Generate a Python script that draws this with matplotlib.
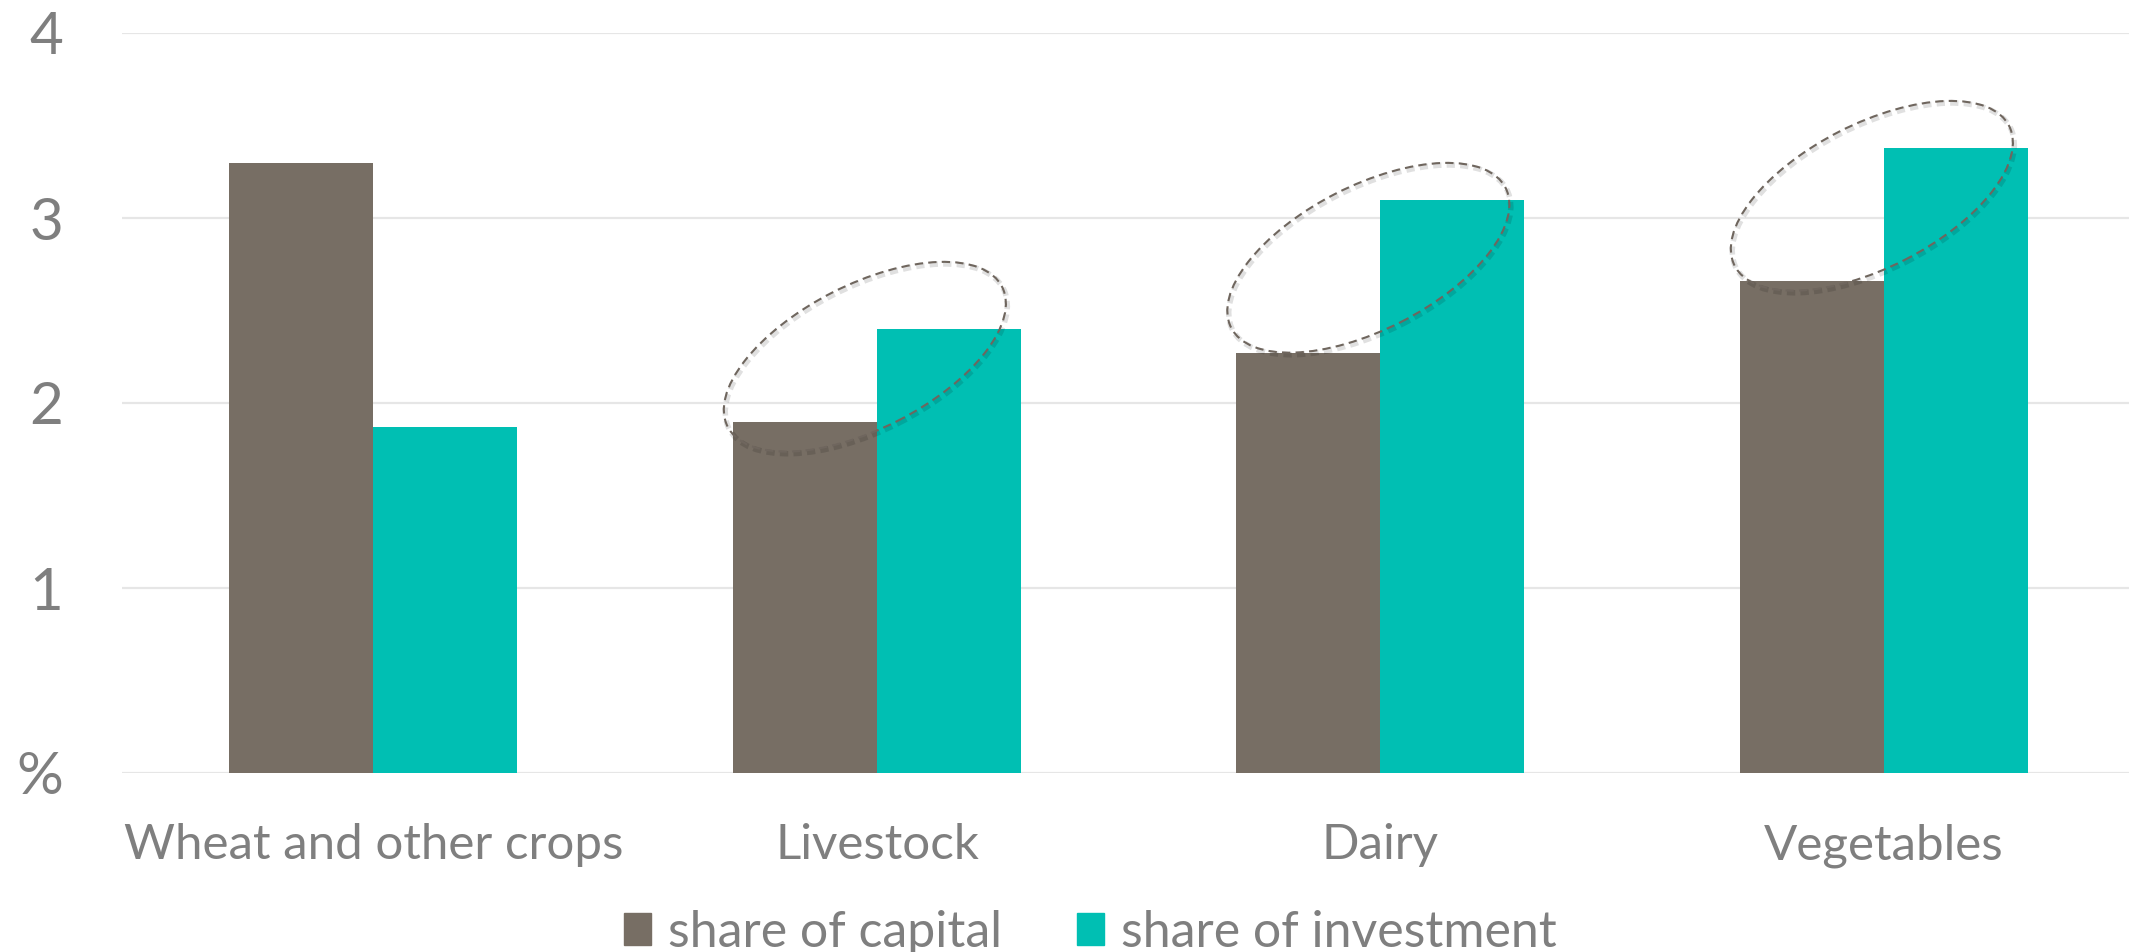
import numpy as np
import matplotlib
matplotlib.use("Agg")
import matplotlib.pyplot as plt
from matplotlib.patches import Ellipse, Patch
from matplotlib.transforms import ScaledTranslation
import matplotlib.patheffects as pe

# Data
categories = ['Wheat and other crops', 'Livestock', 'Dairy', 'Vegetables']
share_capital = [3.30, 1.90, 2.27, 2.66]
share_investment = [1.87, 2.40, 3.10, 3.38]
ytick_values = [0, 1, 2, 3, 4]
ytick_labels = ['%', '1', '2', '3', '4']
highlighted = ['Livestock', 'Dairy', 'Vegetables']

col_capital = '#776e64'
col_invest = '#00bfb3'
text_col = '#7f7f7f'

plt.rcParams['font.family'] = ['Lato', 'DejaVu Sans']

fig = plt.figure(figsize=(21.29, 9.52), dpi=100)
ax = fig.add_axes([121.7 / 2129, 179 / 952, 2014 / 2129, 740 / 952])

x = np.arange(len(categories))
w = 0.286
ax.bar(x - w / 2, share_capital, w, color=col_capital, zorder=2)
ax.bar(x + w / 2, share_investment, w, color=col_invest, zorder=2)

ax.set_xlim(-0.5, len(categories) - 0.5)
ax.set_ylim(0, 4)
ax.set_yticks(ytick_values)
ax.set_yticklabels(ytick_labels)
ax.set_xticks(x)
ax.set_xticklabels(categories)
ax.grid(axis='y', color='#e6e6e6', linewidth=1.6, zorder=0)
ax.set_axisbelow(True)
for s in ax.spines.values():
    s.set_visible(False)
ax.tick_params(axis='y', length=0, pad=42, labelsize=42, labelcolor=text_col)
ax.tick_params(axis='x', length=0, pad=36, labelsize=35.5, labelcolor=text_col)

# dashed ellipses around capital -> investment step
for name in highlighted:
    i = categories.index(name)
    yc = (share_capital[i] + share_investment[i]) / 2 + 0.1
    trans = fig.dpi_scale_trans + ScaledTranslation(i - 0.024, yc, ax.transData)
    e = Ellipse((0, 0), width=3.08, height=1.44, angle=27, transform=trans,
                fill=False, edgecolor='#6f665e', linewidth=1.5,
                linestyle=(0, (4, 2.5)), zorder=4)
    e.set_path_effects([pe.SimpleLineShadow(offset=(1, -1.5), shadow_color='k',
                                            alpha=0.12, linewidth=4),
                        pe.Normal()])
    ax.add_patch(e)

handles = [Patch(color=col_capital, label='share of capital'),
           Patch(color=col_invest, label='share of investment')]
fig.legend(handles=handles, loc='center', bbox_to_anchor=(0.512, 0.02), ncol=2,
           frameon=False, fontsize=36, labelcolor=text_col,
           handlelength=0.55, handleheight=0.6, handletextpad=0.33,
           columnspacing=1.5, borderaxespad=0, borderpad=0)

fig.savefig('out.png', dpi=100)
